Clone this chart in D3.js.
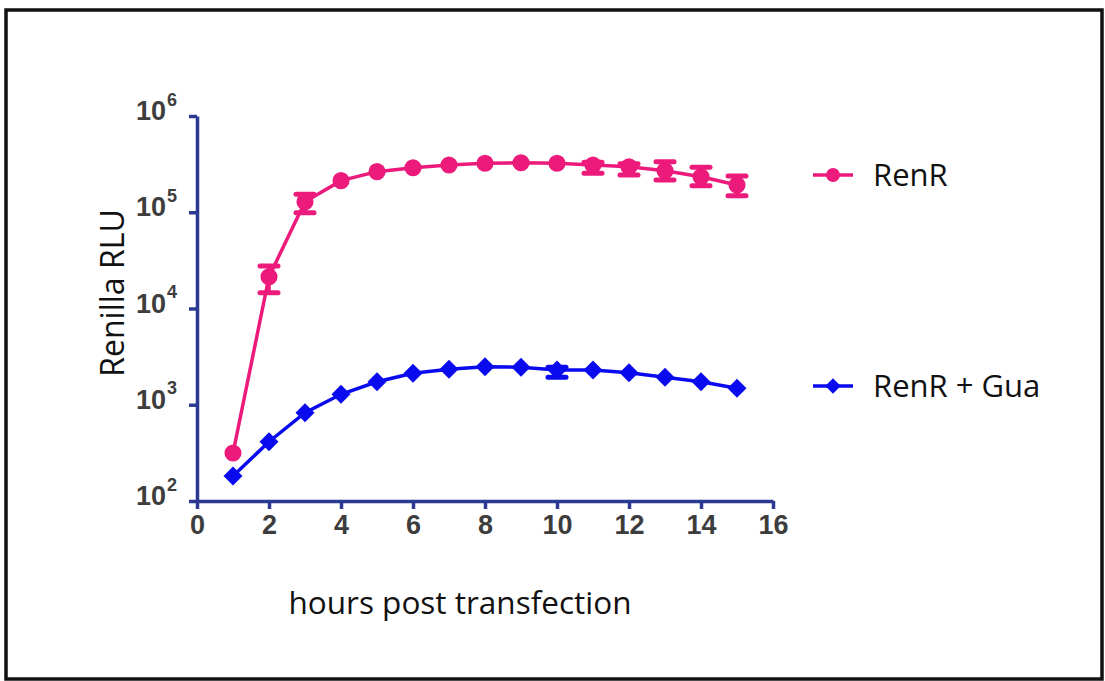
<!DOCTYPE html>
<html>
<head>
<meta charset="utf-8">
<script src="https://cdn.jsdelivr.net/npm/d3@7"></script>
<style>
  body { margin: 0; background: #fff; }
  svg { display: block; }
</style>
</head>
<body>
<div id="chart"></div>
<script>
// hours post transfection
const hours = [1, 2, 3, 4, 5, 6, 7, 8, 9, 10, 11, 12, 13, 14, 15];

// RenR: mean, and error bar ends (null = no visible bar)
const renR = [315, 21400, 128800, 213000, 264000, 290000, 310000, 323000, 327000, 323000, 310000, 297000, 270000, 234000, 192000];
const renRHi = [null, 27700, 153700, null, null, null, null, null, null, null, 330000, 320000, 335000, 293000, 238000];
const renRLo = [null, 14600, 98900, null, null, null, null, null, null, null, 254000, 244000, 216000, 189000, 148000];

// RenR + Gua
const renRGua = [182, 413, 826, 1285, 1733, 2122, 2336, 2486, 2449, 2296, 2296, 2153, 1928, 1735, 1483];
const renRGuaHi = [null, null, null, null, null, null, null, null, null, 2450, null, null, null, null, null];
const renRGuaLo = [null, null, null, null, null, null, null, null, null, 1928, null, null, null, null, null];

const xTicks = [0, 2, 4, 6, 8, 10, 12, 14, 16];
const yTicks = [1e2, 1e3, 1e4, 1e5, 1e6];
const seriesNames = ["RenR", "RenR + Gua"];

const width = 1105, height = 681;
const axisColor = "#2b3990";
const pink = "#ec1a7b", blue = "#0a0aee";
const textFont = "Open Sans, sans-serif";
const tickFont = "Liberation Sans, Arial, sans-serif";

const svg = d3.select("#chart")
    .append("svg")
    .attr("width", width)
    .attr("height", height);

// outer frame
svg.append("rect")
    .attr("x", 6).attr("y", 10)
    .attr("width", 1096).attr("height", 669)
    .attr("fill", "none")
    .attr("stroke", "#111")
    .attr("stroke-width", 3.5);

const x = d3.scaleLinear().domain([0, 16]).range([197, 773]);
const y = d3.scaleLog().domain([1e2, 1e6]).range([501, 116]);

// x axis
const gx = svg.append("g")
    .attr("transform", `translate(0,${y(1e2)})`)
    .call(d3.axisBottom(x).tickValues(xTicks).tickSize(8).tickSizeOuter(0).tickPadding(6));
gx.select(".domain").attr("stroke", axisColor).attr("stroke-width", 3.5);
gx.selectAll(".tick line").attr("stroke", axisColor).attr("stroke-width", 3.5);
gx.selectAll(".tick text")
    .attr("fill", "#3d3d3d")
    .attr("font-family", tickFont)
    .attr("font-weight", "bold")
    .attr("font-size", 27);

// y axis
const gy = svg.append("g")
    .attr("transform", `translate(${x(0)},0)`)
    .call(d3.axisLeft(y).tickValues(yTicks).tickSize(8).tickSizeOuter(0).tickPadding(12)
        .tickFormat(() => ""));
gy.select(".domain").attr("stroke", axisColor).attr("stroke-width", 3.5);
gy.selectAll(".tick line").attr("stroke", axisColor).attr("stroke-width", 3.5);
gy.selectAll(".tick text").each(function(d) {
    const t = d3.select(this)
        .attr("fill", "#3d3d3d")
        .attr("font-family", tickFont)
        .attr("font-weight", "bold")
        .attr("dy", "0.36em");
    t.append("tspan").attr("font-size", 27).text("10");
    t.append("tspan").attr("font-size", 18).attr("dx", 1).attr("dy", "-0.8em").text(Math.round(Math.log10(d)));
});

// axis titles
svg.append("text")
    .attr("x", 460).attr("y", 614)
    .attr("text-anchor", "middle")
    .attr("font-family", textFont)
    .attr("font-size", 31.5)
    .attr("fill", "#111")
    .text("hours post transfection");

svg.append("text")
    .attr("transform", "translate(124,293) rotate(-90)")
    .attr("text-anchor", "middle")
    .attr("font-family", textFont)
    .attr("font-size", 32)
    .attr("fill", "#111")
    .text("Renilla RLU");

const line = d3.line()
    .x((d) => x(d.h))
    .y((d) => y(d.v));

function drawSeries(vals, hi, lo, color, isCircle) {
    const data = hours.map((h, i) => ({h: h, v: vals[i], hi: hi[i], lo: lo[i]}));
    const g = svg.append("g");
    g.append("path")
        .datum(data)
        .attr("d", line)
        .attr("fill", "none")
        .attr("stroke", color)
        .attr("stroke-width", 3.5);

    const eb = g.selectAll(".eb")
        .data(data.filter((d) => d.hi != null))
        .enter().append("g");
    eb.append("line")
        .attr("x1", (d) => x(d.h)).attr("x2", (d) => x(d.h))
        .attr("y1", (d) => y(d.hi)).attr("y2", (d) => y(d.lo))
        .attr("stroke", color).attr("stroke-width", 3.5);
    [(d) => d.hi, (d) => d.lo].forEach((f) => {
        eb.append("line")
            .attr("x1", (d) => x(d.h) - 9).attr("x2", (d) => x(d.h) + 9)
            .attr("y1", (d) => y(f(d))).attr("y2", (d) => y(f(d)))
            .attr("stroke", color).attr("stroke-width", 5)
            .attr("stroke-linecap", "round");
    });

    g.selectAll(".pt")
        .data(data)
        .enter()
        .append("path")
        .attr("fill", color)
        .attr("transform", (d) => isCircle
            ? `translate(${x(d.h)},${y(d.v)})`
            : `translate(${x(d.h)},${y(d.v)}) rotate(45)`)
        .attr("d", isCircle
            ? d3.symbol().type(d3.symbolCircle).size(230)()
            : d3.symbol().type(d3.symbolSquare).size(180)());
}

drawSeries(renR, renRHi, renRLo, pink, true);
drawSeries(renRGua, renRGuaHi, renRGuaLo, blue, false);

// legend
const legendY = [175, 386];
const legendColors = [pink, blue];
const lg = svg.selectAll(".legend")
    .data(seriesNames)
    .enter().append("g")
    .attr("transform", (d, i) => `translate(813,${legendY[i]})`);
lg.append("line")
    .attr("x1", 0).attr("x2", 40)
    .attr("stroke", (d, i) => legendColors[i])
    .attr("stroke-width", 3.5);
lg.append("path")
    .attr("transform", (d, i) => i === 0 ? "translate(20,0)" : "translate(20,0) rotate(45)")
    .attr("d", (d, i) => i === 0
        ? d3.symbol().type(d3.symbolCircle).size(150)()
        : d3.symbol().type(d3.symbolSquare).size(120)())
    .attr("fill", (d, i) => legendColors[i]);
lg.append("text")
    .attr("x", 60).attr("y", 11)
    .attr("font-family", textFont)
    .attr("font-size", 31)
    .attr("fill", "#111")
    .text((d) => d);
</script>
</body>
</html>
